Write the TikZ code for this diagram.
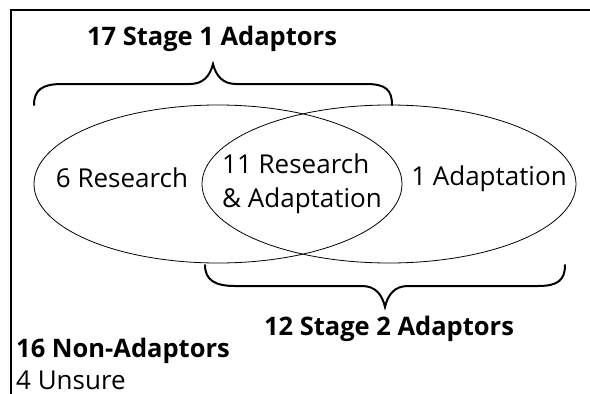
\documentclass[tikz,border=0pt]{standalone}
\usepackage{fontspec}
\setmainfont{Open Sans}
\usepackage{tikz}
\usetikzlibrary{shapes.geometric, positioning}
\tikzset{
x=1pt, y=-1pt, % one unit is one pixel of the picture, y runs downwards
set/.style={draw, ellipse, line width=0.8pt, inner sep=0pt}, % the two circles of the diagram
brace/.style={line width=2pt, line cap=round}, % the curly brackets
label/.style={font=\fontsize{26}{34}\selectfont, inner sep=0pt}, % plain text
title/.style={font=\fontsize{25.5}{34}\selectfont\bfseries, inner sep=0pt}, % bold text
}

\begin{document}
\begin{tikzpicture}
        \useasboundingbox (0,0) rectangle (590,394);
        % frame
        \draw[line width=1.6pt] (11,394) -- (11,10) -- (590,10);
        % the two sets
        \node[set, minimum width=368pt, minimum height=158pt] (research) at (218,184) {};
        \node[set, minimum width=374pt, minimum height=158pt] (adaptation) at (389,184) {};
        % texts inside
        \node[label, anchor=base] (onlyres) at (122,187) {6 Research};
        \node[label, anchor=base west, align=left] (both) at (222,207) {11 Research\\\& Adaptation};
        \node[label, anchor=base] (onlyadapt) at (489,185) {1 Adaptation};
        % brackets
        \draw[brace] (34,105) .. controls (34,90) and (42,84) .. (62,84) -- (190,84)
            .. controls (203,84) and (210,76) .. (213,64)
            .. controls (216,76) and (223,84) .. (236,84) -- (366,84)
            .. controls (386,84) and (392,90) .. (392,105);
        \draw[brace] (205,265) .. controls (205,280) and (215,286) .. (235,286) -- (362,286)
            .. controls (375,286) and (382,294) .. (385,307)
            .. controls (388,294) and (395,286) .. (408,286) -- (538,286)
            .. controls (558,286) and (565,280) .. (565,265);
        % counts
        \node[title, anchor=base] (stageone) at (212,45) {17 Stage 1 Adaptors};
        \node[title, anchor=base] (stagetwo) at (389,335) {12 Stage 2 Adaptors};
        \node[title, anchor=base west] (nonadapt) at (16,357) {16 Non-Adaptors};
        \node[label, anchor=base west] (unsure) at (16,389) {4 Unsure};
\end{tikzpicture}
\end{document}
